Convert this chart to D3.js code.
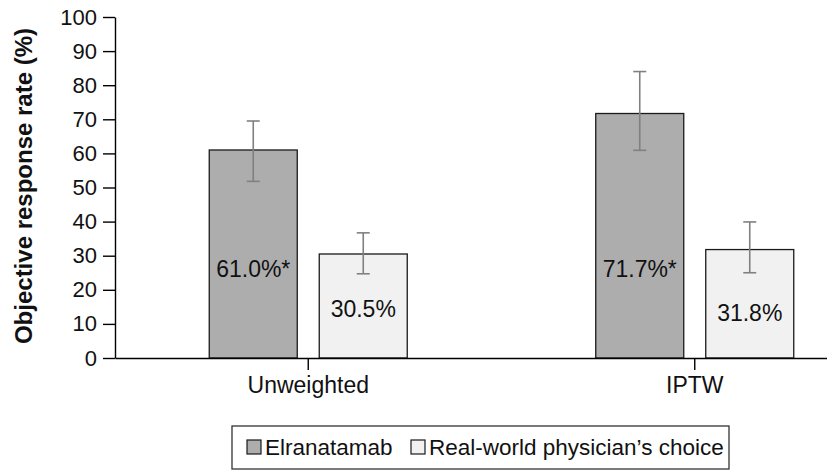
<!DOCTYPE html>
<html>
<head>
<meta charset="utf-8">
<script src="https://cdn.jsdelivr.net/npm/d3@7"></script>
<style>
  body { margin: 0; background: #fff; }
  svg text { font-family: "Liberation Sans", Arial, Helvetica, sans-serif; fill: #111; }
</style>
</head>
<body>
<div id="chart"></div>
<script>
// data
const categories = ['Unweighted', 'IPTW'];
const series = ['Elranatamab', 'Real-world physician\u2019s choice'];
const elranatamab = [61.0, 71.7];
const physician = [30.5, 31.8];
const elranatamabLow = [51.8, 60.9];
const elranatamabHigh = [69.5, 84.0];
const physicianLow = [24.7, 25.0];
const physicianHigh = [36.7, 39.9];
const barLabels = [['61.0%*', '30.5%'], ['71.7%*', '31.8%']];
const yTicks = [0, 10, 20, 30, 40, 50, 60, 70, 80, 90, 100];

const width = 827;
const height = 471;
const colors = ['#adadad', '#f1f1f1'];

const svg = d3.select('#chart')
  .append('svg')
  .attr('width', width)
  .attr('height', height);

const y = d3.scaleLinear()
  .domain([0, 100])
  .range([358, 17]);

// band over wider range so the category centres land where the reference has them
const x = d3.scaleBand()
  .domain(categories)
  .range([115, 888]);

const xInner = d3.scaleBand()
  .domain(series)
  .range([-99, 99])
  .paddingInner(0.2);

const rows = categories.map((c, i) => ([
  { cat: c, s: series[0], v: elranatamab[i], lo: elranatamabLow[i], hi: elranatamabHigh[i], label: barLabels[i][0], labelAt: 23.9, color: colors[0] },
  { cat: c, s: series[1], v: physician[i], lo: physicianLow[i], hi: physicianHigh[i], label: barLabels[i][1], labelAt: i === 0 ? 12.0 : 10.9, color: colors[1] }
])).flat();

const cx = d => x(d.cat) + x.bandwidth() / 2 + xInner(d.s);

// bars
svg.append('g')
  .selectAll('rect')
  .data(rows)
  .join('rect')
  .attr('x', d => cx(d))
  .attr('y', d => y(d.v))
  .attr('width', xInner.bandwidth())
  .attr('height', d => y(0) - y(d.v))
  .attr('fill', d => d.color)
  .attr('stroke', '#1a1a1a')
  .attr('stroke-width', 1.3);

// error bars
const err = svg.append('g')
  .attr('stroke', '#808080')
  .attr('stroke-width', 1.6);

rows.forEach(d => {
  const mx = cx(d) + xInner.bandwidth() / 2;
  err.append('line').attr('x1', mx).attr('x2', mx).attr('y1', y(d.lo)).attr('y2', y(d.hi));
  err.append('line').attr('x1', mx - 6.5).attr('x2', mx + 6.5).attr('y1', y(d.lo)).attr('y2', y(d.lo));
  err.append('line').attr('x1', mx - 6.5).attr('x2', mx + 6.5).attr('y1', y(d.hi)).attr('y2', y(d.hi));
});

// labels inside bars
svg.append('g')
  .selectAll('text')
  .data(rows)
  .join('text')
  .attr('x', d => cx(d) + xInner.bandwidth() / 2)
  .attr('y', d => y(d.labelAt))
  .attr('text-anchor', 'middle')
  .style('font-size', '23px')
  .text(d => d.label);

// y axis
const yAxis = svg.append('g')
  .attr('transform', 'translate(115,0)')
  .call(d3.axisLeft(y)
    .tickValues(yTicks)
    .tickSize(12)
    .tickSizeOuter(0)
    .tickPadding(6));

yAxis.selectAll('text').style('font-size', '22px').attr('fill', '#111');

// x axis
const xAxis = svg.append('g')
  .attr('transform', `translate(0,${y(0)})`)
  .call(d3.axisBottom(x)
    .tickSize(12)
    .tickSizeOuter(0)
    .tickPadding(7));

xAxis.selectAll('text').style('font-size', '23px').attr('fill', '#111');

svg.selectAll('.domain, .tick line')
  .attr('stroke', '#000')
  .attr('stroke-width', 1.4);

// axis title
svg.append('text')
  .attr('transform', 'translate(32,186) rotate(-90)')
  .attr('text-anchor', 'middle')
  .style('font-size', '24px')
  .style('font-weight', 'bold')
  .text('Objective response rate (%)');

// legend
const legend = svg.append('g');
legend.append('rect')
  .attr('x', 232)
  .attr('y', 426)
  .attr('width', 497)
  .attr('height', 43)
  .attr('fill', '#fff')
  .attr('stroke', '#333')
  .attr('stroke-width', 1.3);

const legX = [247, 411];
series.forEach((s, i) => {
  legend.append('rect')
    .attr('x', legX[i])
    .attr('y', 440)
    .attr('width', 14)
    .attr('height', 14)
    .attr('fill', colors[i])
    .attr('stroke', '#1a1a1a')
    .attr('stroke-width', 1.2);
  legend.append('text')
    .attr('x', legX[i] + 18)
    .attr('y', 454.5)
    .style('font-size', '22.5px')
    .text(s);
});
</script>
</body>
</html>
